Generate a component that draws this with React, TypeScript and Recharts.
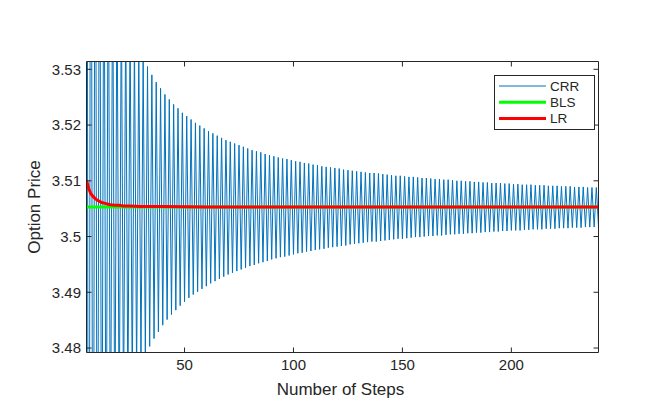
import React from "react";
import { LineChart, Line, XAxis, YAxis, Legend } from "recharts";

// number of steps runs from FIRST_STEP up, one CRR price per step
const FIRST_STEP = 5;
const crrPrices = [
  3.6713, 3.3636, 3.6239, 3.3991, 3.5975, 3.4203, 3.5808, 3.4345, 3.5692, 3.4446,
  3.5606, 3.4522, 3.5541, 3.4581, 3.549, 3.4628, 3.5448, 3.4667, 3.5414, 3.4699,
  3.5385, 3.4726, 3.536, 3.4749, 3.5339, 3.477, 3.5321, 3.4787, 3.5305, 3.4803,
  3.529, 3.4817, 3.5277, 3.4829, 3.5266, 3.4841, 3.5255, 3.4851, 3.5246, 3.486,
  3.5237, 3.4868, 3.523, 3.4876, 3.5222, 3.4883, 3.5216, 3.489, 3.521, 3.4896,
  3.5204, 3.4901, 3.5199, 3.4906, 3.5194, 3.4911, 3.5189, 3.4916, 3.5185, 3.492,
  3.5181, 3.4924, 3.5177, 3.4928, 3.5173, 3.4932, 3.517, 3.4935, 3.5167, 3.4938,
  3.5164, 3.4941, 3.5161, 3.4944, 3.5158, 3.4947, 3.5155, 3.4949, 3.5153, 3.4952,
  3.5151, 3.4954, 3.5148, 3.4956, 3.5146, 3.4959, 3.5144, 3.4961, 3.5142, 3.4963,
  3.514, 3.4964, 3.5139, 3.4966, 3.5137, 3.4968, 3.5135, 3.497, 3.5134, 3.4971,
  3.5132, 3.4973, 3.5131, 3.4974, 3.5129, 3.4976, 3.5128, 3.4977, 3.5126, 3.4978,
  3.5125, 3.498, 3.5124, 3.4981, 3.5123, 3.4982, 3.5122, 3.4983, 3.512, 3.4984,
  3.5119, 3.4986, 3.5118, 3.4987, 3.5117, 3.4988, 3.5116, 3.4989, 3.5115, 3.499,
  3.5114, 3.4991, 3.5114, 3.4991, 3.5113, 3.4992, 3.5112, 3.4993, 3.5111, 3.4994,
  3.511, 3.4995, 3.5109, 3.4996, 3.5109, 3.4996, 3.5108, 3.4997, 3.5107, 3.4998,
  3.5107, 3.4999, 3.5106, 3.4999, 3.5105, 3.5, 3.5105, 3.5001, 3.5104, 3.5001,
  3.5103, 3.5002, 3.5103, 3.5002, 3.5102, 3.5003, 3.5102, 3.5004, 3.5101, 3.5004,
  3.51, 3.5005, 3.51, 3.5005, 3.5099, 3.5006, 3.5099, 3.5006, 3.5098, 3.5007,
  3.5098, 3.5007, 3.5097, 3.5008, 3.5097, 3.5008, 3.5096, 3.5009, 3.5096, 3.5009,
  3.5096, 3.501, 3.5095, 3.501, 3.5095, 3.5011, 3.5094, 3.5011, 3.5094, 3.5011,
  3.5093, 3.5012, 3.5093, 3.5012, 3.5093, 3.5013, 3.5092, 3.5013, 3.5092, 3.5013,
  3.5092, 3.5014, 3.5091, 3.5014, 3.5091, 3.5014, 3.5091, 3.5015, 3.509, 3.5015,
  3.509, 3.5015, 3.509, 3.5016, 3.5089, 3.5016, 3.5089, 3.5016, 3.5089, 3.5017,
  3.5088, 3.5017, 3.5088, 3.5017, 3.5088, 3.5018,
];

const blsPrice = 3.5053;

const lrSteps = [5, 6, 7, 8, 9, 10, 11, 12, 13, 14, 15, 16, 18, 20, 22, 25, 30, 40, 60, 100, 240];
const lrPrices = [
  3.5101, 3.5086, 3.5077, 3.5072, 3.5068, 3.5065, 3.5063, 3.5061, 3.506, 3.5059,
  3.5058, 3.5057, 3.5056, 3.5056, 3.5055, 3.5055, 3.5054, 3.5054, 3.5053, 3.5053, 3.5053,
];

const xTicks = [50, 100, 150, 200];
const yTicks = [3.48, 3.49, 3.5, 3.51, 3.52, 3.53];
const xDomain = [5, 240];
const yDomain = [3.4792, 3.5314];

const series = [
  { key: "crr", name: "CRR", color: "#0072BD", width: 1 },
  { key: "bls", name: "BLS", color: "#00FF00", width: 3 },
  { key: "lr", name: "LR", color: "#FF0000", width: 3 },
];

const lastStep = FIRST_STEP + crrPrices.length - 1;
const rows = crrPrices.map((crr, i) => {
  const step = FIRST_STEP + i;
  const k = lrSteps.indexOf(step);
  return {
    step,
    crr,
    bls: step === FIRST_STEP || step === lastStep ? blsPrice : null,
    lr: k >= 0 ? lrPrices[k] : null,
  };
});

const W = 661;
const H = 398;
const PLOT_LEFT = 86.5;
const PLOT_RIGHT = 598.5;
const PLOT_TOP = 61.5;
const PLOT_BOTTOM = 352.5;
const TICK_LEN = 5;
const INK = "#262626";
const FONT = "'Liberation Sans', Arial, Helvetica, sans-serif";

const BottomTick = (props: any) => {
  const { x, y, payload } = props;
  return (
    <g>
      <line x1={x} x2={x} y1={PLOT_BOTTOM} y2={PLOT_BOTTOM - TICK_LEN} stroke={INK} />
      <line x1={x} x2={x} y1={PLOT_TOP} y2={PLOT_TOP + TICK_LEN} stroke={INK} />
      <text x={x} y={y} dy="0.71em" textAnchor="middle" fill={INK} fontSize={15} fontFamily={FONT}>
        {payload.value}
      </text>
    </g>
  );
};

const LeftTick = (props: any) => {
  const { x, y, payload } = props;
  return (
    <g>
      <line x1={PLOT_LEFT} x2={PLOT_LEFT + TICK_LEN} y1={y} y2={y} stroke={INK} />
      <line x1={PLOT_RIGHT} x2={PLOT_RIGHT - TICK_LEN} y1={y} y2={y} stroke={INK} />
      <text x={x} y={y} dy="0.36em" textAnchor="end" fill={INK} fontSize={15} fontFamily={FONT}>
        {String(+Number(payload.value).toFixed(2))}
      </text>
    </g>
  );
};

const XTitle = (props: any) => {
  const { viewBox } = props;
  return (
    <text x={viewBox.x + viewBox.width / 2 - 2} y={395} textAnchor="middle" fill={INK} fontSize={17} fontFamily={FONT}>
      Number of Steps
    </text>
  );
};

const YTitle = (props: any) => {
  const { viewBox } = props;
  const cy = viewBox.y + viewBox.height / 2;
  return (
    <text x={39.5} y={cy} transform={`rotate(-90, 39.5, ${cy})`} textAnchor="middle" fill={INK} fontSize={17} fontFamily={FONT}>
      Option Price
    </text>
  );
};

const LegendBox = () => (
  <svg width={101} height={55} style={{ display: "block" }}>
    <rect x={0.5} y={0.5} width={100} height={54} fill="#fff" stroke={INK} />
    {series.map((s, i) => (
      <g key={s.key}>
        <line x1={5} x2={52} y1={11 + i * 16.3} y2={11 + i * 16.3} stroke={s.color} strokeWidth={s.width} />
        <text x={56} y={11 + i * 16.3} dy="0.36em" fill={INK} fontSize={13.5} fontFamily={FONT}>
          {s.name}
        </text>
      </g>
    ))}
  </svg>
);

export default function App() {
  return (
    <div style={{ position: "absolute", left: 0, top: 0, width: W, height: H, background: "#fff" }}>
      <LineChart
        width={W}
        height={H}
        data={rows}
        margin={{ top: PLOT_TOP - 1, right: W - PLOT_RIGHT - 1, bottom: 0, left: 0 }}
      >
        <XAxis
          dataKey="step"
          type="number"
          domain={xDomain}
          ticks={xTicks}
          allowDataOverflow
          tickLine={false}
          tickSize={0}
          tickMargin={7}
          tick={<BottomTick />}
          height={H - PLOT_BOTTOM}
          axisLine={{ stroke: INK }}
          label={<XTitle />}
        />
        <XAxis
          xAxisId="top"
          dataKey="step"
          type="number"
          orientation="top"
          domain={xDomain}
          allowDataOverflow
          height={1}
          tick={false}
          tickLine={false}
          axisLine={{ stroke: INK }}
        />
        <YAxis
          type="number"
          domain={yDomain}
          ticks={yTicks}
          allowDataOverflow
          tickLine={false}
          tickSize={0}
          tickMargin={5.5}
          tick={<LeftTick />}
          width={PLOT_LEFT}
          axisLine={{ stroke: INK }}
          label={<YTitle />}
        />
        <YAxis
          yAxisId="right"
          type="number"
          orientation="right"
          domain={yDomain}
          allowDataOverflow
          width={1}
          tick={false}
          tickLine={false}
          axisLine={{ stroke: INK }}
        />
        {series.map((s) => (
          <Line
            key={s.key}
            dataKey={s.key}
            name={s.name}
            type="linear"
            stroke={s.color}
            strokeWidth={s.width}
            dot={false}
            activeDot={false}
            connectNulls
            isAnimationActive={false}
          />
        ))}
        <Legend
          layout="vertical"
          align="center"
          verticalAlign="middle"
          content={<LegendBox />}
          wrapperStyle={{ position: "absolute", left: 494, top: 74.5, width: 101, height: 55 }}
        />
      </LineChart>
    </div>
  );
}
